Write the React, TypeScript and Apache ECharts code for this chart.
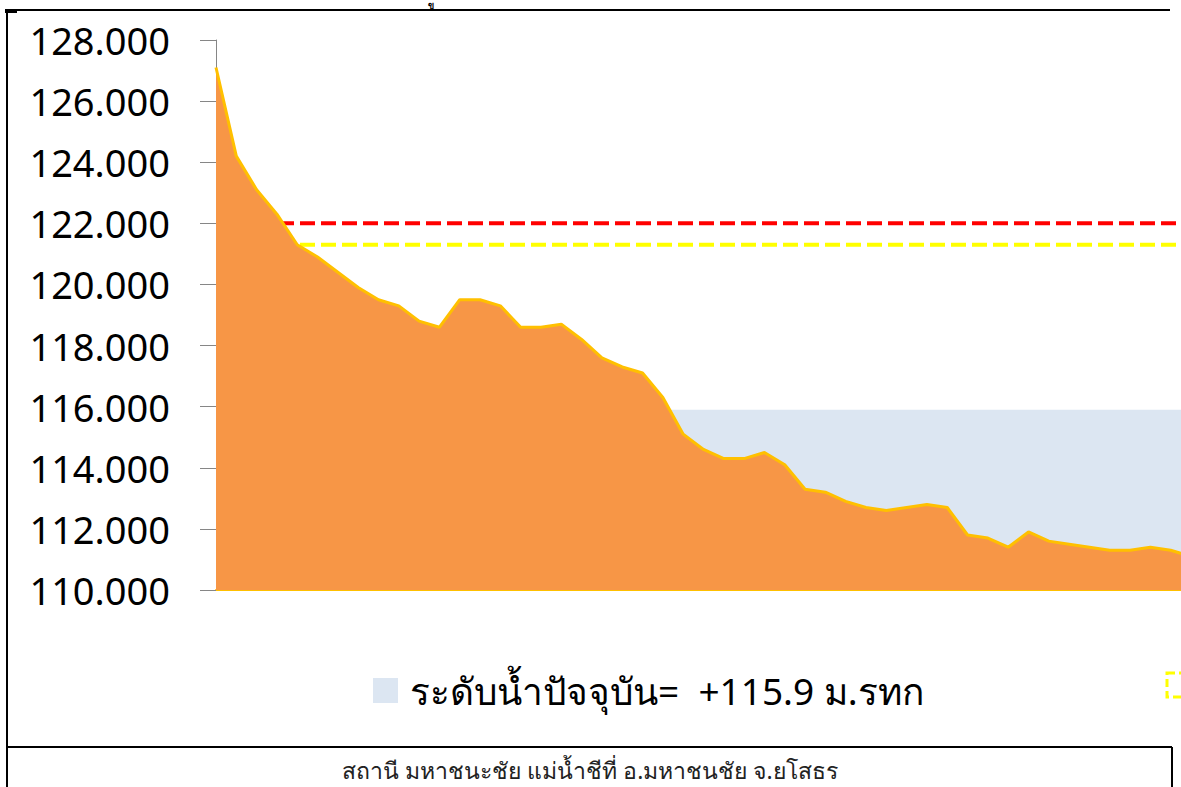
import React, { useEffect, useRef } from "react";
import * as echarts from "echarts";

const categories = [
  "1", "2", "3", "4", "5", "6", "7", "8", "9", "10",
  "11", "12", "13", "14", "15", "16", "17", "18", "19", "20",
  "21", "22", "23", "24", "25", "26", "27", "28", "29", "30",
  "31", "32", "33", "34", "35", "36", "37", "38", "39", "40",
  "41", "42", "43", "44", "45", "46", "47", "48", "49",
];

const waterLevel = [
  127.1, 124.2, 123.1, 122.3, 121.3, 120.9, 120.4, 119.9, 119.5, 119.3,
  118.8, 118.6, 119.5, 119.5, 119.3, 118.6, 118.6, 118.7, 118.2, 117.6,
  117.3, 117.1, 116.3, 115.1, 114.6, 114.3, 114.3, 114.5, 114.1, 113.3,
  113.2, 112.9, 112.7, 112.6, 112.7, 112.8, 112.7, 111.8, 111.7, 111.4,
  111.9, 111.6, 111.5, 111.4, 111.3, 111.3, 111.4, 111.3, 111.1,
];

const currentLevel = 115.9;
const criticalLevel = 122.0;
const bankLevel = 121.3;

const currentName = "ระดับน้ำปัจจุบัน=  +115.9 ม.รทก";
const criticalName = "ระดับวิกฤต";
const bankName = "ระดับตลิ่ง";
const levelName = "ระดับน้ำ";
const caption = "สถานี มหาชนะชัย แม่น้ำชีที่ อ.มหาชนชัย จ.ยโสธร";
const titleFragment = "ข";

const yMin = 110;
const yMax = 128;
const yInterval = 2;

const FONT = "'Noto Sans', 'Open Sans', sans-serif";

export default function App() {
  const ref = useRef<HTMLDivElement>(null);

  useEffect(() => {
    if (!ref.current) return;
    const chart = echarts.init(ref.current, null, { renderer: "svg" });
    const flat = (v: number) => categories.map(() => v);
    chart.setOption({
      animation: false,
      backgroundColor: "#ffffff",
      grid: { left: 216, top: 40, bottom: 197, right: 9, containLabel: false },
      legend: {
        data: [{ name: currentName, icon: "rect" }],
        left: 373,
        top: 672,
        padding: 0,
        itemWidth: 25,
        itemHeight: 25,
        selectedMode: false,
        textStyle: { fontSize: 37, color: "#000", fontFamily: FONT, padding: [0, 0, 0, 7] },
      },
      xAxis: {
        type: "category",
        data: categories,
        boundaryGap: false,
        axisLine: { lineStyle: { color: "#ffc000", width: 2 } },
        axisTick: { show: false },
        axisLabel: { show: false },
        splitLine: { show: false },
      },
      yAxis: {
        type: "value",
        min: yMin,
        max: yMax,
        interval: yInterval,
        axisLine: { show: true, lineStyle: { color: "#868686", width: 1 } },
        axisTick: { show: true, length: 16, lineStyle: { color: "#868686", width: 1 } },
        splitLine: { show: false },
        axisLabel: {
          margin: 46,
          fontSize: 38,
          color: "#000",
          fontFamily: FONT,
          formatter: (v: number) => v.toFixed(3),
        },
      },
      series: [
        {
          name: currentName,
          type: "line",
          data: flat(currentLevel),
          symbol: "none",
          lineStyle: { width: 0, opacity: 0 },
          itemStyle: { color: "#dce6f2" },
          areaStyle: { color: "#dce6f2", opacity: 1 },
          z: 1,
        },
        {
          name: criticalName,
          type: "line",
          data: flat(criticalLevel),
          symbol: "none",
          lineStyle: { color: "#ff0000", width: 4, type: [15, 6] },
          z: 2,
        },
        {
          name: bankName,
          type: "line",
          data: flat(bankLevel),
          symbol: "none",
          lineStyle: { color: "#ffff00", width: 4, type: [15, 6] },
          z: 2,
        },
        {
          name: levelName,
          type: "line",
          data: waterLevel,
          symbol: "none",
          lineStyle: { color: "#ffc000", width: 3 },
          itemStyle: { color: "#f79646" },
          areaStyle: { color: "#f79646", opacity: 1 },
          z: 3,
        },
      ],
      graphic: [
        { type: "line", shape: { x1: 5, y1: 10, x2: 1170, y2: 10 }, style: { stroke: "#000", lineWidth: 2 } },
        { type: "rect", shape: { x: 5, y: 9, width: 12, height: 4 }, style: { fill: "#000" } },
        { type: "line", shape: { x1: 7, y1: 10, x2: 7, y2: 787 }, style: { stroke: "#000", lineWidth: 2 } },
        { type: "line", shape: { x1: 7, y1: 747, x2: 1172, y2: 747 }, style: { stroke: "#000", lineWidth: 2 } },
        { type: "line", shape: { x1: 1172, y1: 747, x2: 1172, y2: 787 }, style: { stroke: "#000", lineWidth: 2 } },
        {
          type: "rect",
          shape: { x: 1167, y: 673, width: 25, height: 24 },
          style: { fill: "none", stroke: "#ffff00", lineWidth: 3, lineDash: [8, 4] },
        },
        {
          type: "text",
          x: 590,
          y: 770,
          style: {
            text: caption,
            fontSize: 23,
            lineHeight: 26,
            fill: "#222",
            fontFamily: FONT,
            textAlign: "center",
            textVerticalAlign: "middle",
          },
        },
        {
          type: "text",
          x: 431,
          y: 1,
          style: {
            text: titleFragment,
            fontSize: 9,
            lineHeight: 9,
            fontWeight: "bold",
            fill: "#000",
            fontFamily: FONT,
            textAlign: "center",
            textVerticalAlign: "top",
          },
        },
      ],
    });
    return () => chart.dispose();
  }, []);

  return (
    <div
      style={{
        position: "absolute",
        left: 0,
        top: 0,
        width: 1181,
        height: 787,
        overflow: "hidden",
        background: "#fff",
      }}
    >
      <div ref={ref} style={{ width: 1200, height: 787 }} />
    </div>
  );
}
